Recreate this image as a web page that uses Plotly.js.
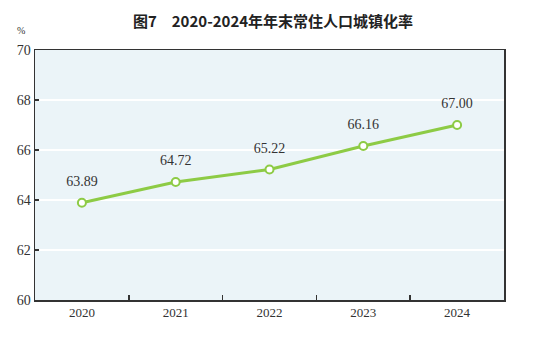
<!DOCTYPE html>
<html>
<head>
<meta charset="utf-8">
<script src="https://cdn.plot.ly/plotly-3.0.1.min.js"></script>
<style>html,body{margin:0;padding:0;background:#fff;}#chart{width:546px;height:337px;}</style>
</head>
<body>
<div id="chart"></div>
<script>
const years = ["2020", "2021", "2022", "2023", "2024"];
const rates = [63.89, 64.72, 65.22, 66.16, 67.00];
const yTicks = [60, 62, 64, 66, 68, 70];

const lineTrace = {
  x: years,
  y: rates,
  type: "scatter",
  mode: "lines+markers",
  line: {color: "#8DCB45", width: 3},
  marker: {size: 8, color: "#ffffff", line: {color: "#8DCB45", width: 2}},
  cliponaxis: false,
  hoverinfo: "skip"
};

const labelTrace = {
  x: years,
  y: rates,
  type: "scatter",
  mode: "markers+text",
  text: rates.map(v => v.toFixed(2)),
  textposition: "top center",
  textfont: {family: "Liberation Serif, serif", size: 14, color: "#333"},
  marker: {size: 20, opacity: 0},
  cliponaxis: false,
  hoverinfo: "skip"
};

const layout = {
  width: 546, height: 337,
  margin: {l: 35, r: 42, t: 50, b: 37},
  paper_bgcolor: "#ffffff",
  plot_bgcolor: "#EBF4F8",
  showlegend: false,
  title: {
    text: "<b>图7　2020-2024年年末常住人口城镇化率</b>",
    font: {family: "Noto Sans CJK SC", size: 15, color: "#222"},
    x: 0.5, xanchor: "center", y: 0.935, yanchor: "middle"
  },
  xaxis: {
    type: "category",
    range: [-0.5, 4.5],
    showgrid: false,
    zeroline: false,
    showline: true, mirror: true, linecolor: "#333", linewidth: 1.5,
    ticks: "inside", tickson: "boundaries", ticklen: 5, tickcolor: "#333", tickwidth: 1.5,
    tickfont: {family: "Liberation Serif, serif", size: 13, color: "#333"},
    fixedrange: true
  },
  yaxis: {
    range: [60, 70],
    tickvals: yTicks,
    ticktext: yTicks.map(String),
    showgrid: true, gridcolor: "#ffffff", gridwidth: 1.5,
    zeroline: false,
    showline: true, mirror: true, linecolor: "#333", linewidth: 1.5,
    ticks: "inside", ticklen: 4, tickcolor: "#333", tickwidth: 1.5,
    tickfont: {family: "Liberation Serif, serif", size: 14, color: "#333"},
    fixedrange: true
  },
  annotations: [{
    text: "%", xref: "paper", yref: "paper", x: -0.03, y: 1.0, yshift: 12,
    xanchor: "center", yanchor: "bottom", showarrow: false,
    font: {family: "Liberation Serif, serif", size: 10, color: "#333"}
  }]
};

Plotly.newPlot("chart", [lineTrace, labelTrace], layout, {displayModeBar: false, staticPlot: true});
</script>
</body>
</html>
